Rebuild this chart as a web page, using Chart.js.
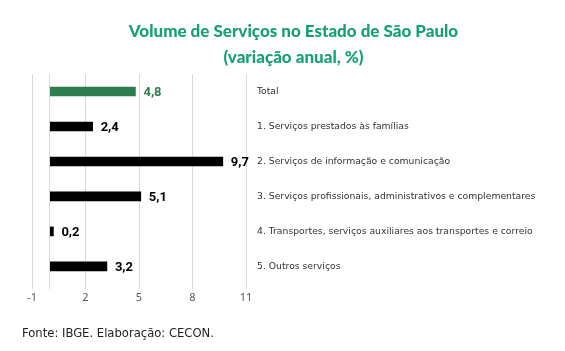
<!DOCTYPE html>
<html>
<head>
<meta charset="utf-8">
<script src="https://cdn.jsdelivr.net/npm/chart.js@4"></script>
<style>
  html, body { margin: 0; padding: 0; background: #fff; }
  #wrap { width: 565px; height: 351px; }
</style>
</head>
<body>
<div id="wrap"><canvas id="myChart" width="565" height="351"></canvas></div>
<script>
const categories = [
    'Total',
    '1. Serviços prestados às famílias',
    '2. Serviços de informação e comunicação',
    '3. Serviços profissionais, administrativos e complementares',
    '4. Transportes, serviços auxiliares aos transportes e correio',
    '5. Outros serviços'
];
const variacao = [4.8, 2.4, 9.7, 5.1, 0.2, 3.2];
const xTicks = [-1, 2, 5, 8, 11];
const gridLines = [-1, 0, 2, 5, 8, 11];

const green = '#2e7d4f';
const barColors = variacao.map((v, i) => i === 0 ? green : '#000000');

// rótulos de valor no fim de cada barra
const valueLabels = {
    id: 'valueLabels',
    afterDatasetsDraw(chart) {
        const ctx = chart.ctx;
        const meta = chart.getDatasetMeta(0);
        ctx.save();
        ctx.font = 'bold 13px Roboto';
        ctx.textBaseline = 'middle';
        ctx.textAlign = 'left';
        meta.data.forEach((bar, i) => {
            ctx.fillStyle = i === 0 ? green : '#000';
            const txt = variacao[i].toFixed(1).replace('.', ',');
            ctx.fillText(txt, bar.x + 8, bar.y + 1);
        });
        ctx.restore();
    }
};

const ctx = document.getElementById('myChart').getContext('2d');
new Chart(ctx, {
    type: 'bar',
    data: {
        labels: categories,
        datasets: [{
            data: variacao,
            backgroundColor: barColors,
            barThickness: 9
        }]
    },
    options: {
        indexAxis: 'y',
        responsive: false,
        animation: false,
        layout: { padding: { left: 22, right: 0, top: 19, bottom: 0 } },
        plugins: {
            legend: { display: false },
            tooltip: { enabled: false },
            title: {
                display: true,
                text: ['Volume de Serviços no Estado de São Paulo', '(variação anual, %)'],
                color: '#16a077',
                font: { family: 'Lato', size: 17, weight: 900, lineHeight: 1.53 },
                padding: { top: 0, bottom: 3 }
            },
            subtitle: {
                display: true,
                position: 'bottom',
                align: 'start',
                text: 'Fonte: IBGE. Elaboração: CECON.',
                color: '#222',
                font: { family: 'DejaVu Sans', size: 11.6, lineHeight: 1.2 },
                padding: { top: 21, bottom: 10 }
            }
        },
        scales: {
            x: {
                min: -1,
                max: 11,
                ticks: {
                    stepSize: 1,
                    autoSkip: false,
                    maxRotation: 0,
                    color: '#595959',
                    font: { family: 'Noto Sans', size: 11 },
                    padding: 2,
                    callback: v => xTicks.includes(v) ? String(v) : ''
                },
                grid: {
                    color: c => gridLines.includes(c.tick.value) ? '#d9d9d9' : 'rgba(0,0,0,0)',
                    tickLength: 5
                },
                border: { display: false },
                afterFit: s => { s.paddingLeft = 32; }
            },
            y: {
                position: 'right',
                grid: { display: false, drawTicks: false },
                border: { display: false },
                ticks: {
                    color: '#333',
                    font: { family: 'DejaVu Sans', size: 9.25 },
                    padding: 11
                },
                afterFit: s => { s.width = 319; }
            }
        }
    },
    plugins: [valueLabels]
});
</script>
</body>
</html>
